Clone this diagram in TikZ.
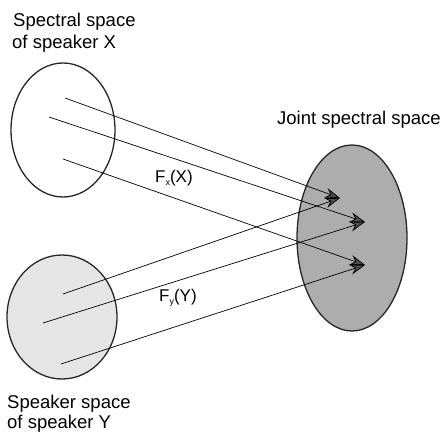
\documentclass[tikz,border=0pt]{standalone}
\usepackage{fontspec}
\setmainfont{Liberation Sans}
\usetikzlibrary{arrows.meta}
\newcommand{\lowsub}[1]{\raisebox{-3.5pt}{\fontsize{9}{9}\selectfont #1}}
\begin{document}
\begin{tikzpicture}[x=1pt,y=-1pt,
  space/.style={draw=black!85,line width=1.3pt},
  map/.style={line width=0.7pt,-{Stealth[length=15pt,width=10pt,fill=black!70]}},
  lbl/.style={font=\fontsize{18.5}{22}\selectfont,anchor=base west,inner sep=0pt},
  flbl/.style={font=\fontsize{17}{20}\selectfont,anchor=base west,inner sep=0pt}]
\useasboundingbox (0,0) rectangle (446,433);
% spaces
\draw[space] (63,130) ellipse [x radius=52, y radius=67];
\node[inner sep=0pt] (X) at (63,130) {};
\draw[space,fill=black!10] (62,317) ellipse [x radius=55, y radius=62];
\node[inner sep=0pt] (Y) at (62,317) {};
\draw[space,fill=black!32] (352,238) ellipse [x radius=55, y radius=93];
\node[inner sep=0pt] (J) at (352,238) {};
% start points
\coordinate (x1) at (65,98);
\coordinate (x2) at (49,117);
\coordinate (x3) at (63,159);
\coordinate (y1) at (63,294);
\coordinate (y2) at (43,323);
\coordinate (y3) at (61,364);
% tips
\coordinate (t1) at (340,198);
\coordinate (t2) at (365,222);
\coordinate (t3) at (365,265);
\draw[map] (x1) -- (t1);
\draw[map] (x2) -- (t2);
\draw[map] (x3) -- (t3);
\draw[map] (y1) -- (t1);
\draw[map] (y2) -- (t2);
\draw[map] (y3) -- (t3);
% labels
\node[lbl] (lx1) at (13,27) {Spectral space};
\node[lbl] (lx2) at (12,49) {of speaker X};
\node[lbl] (lj) at (277,124) {Joint spectral space};
\node[lbl] (ly1) at (7,408) {Speaker space};
\node[lbl] (ly2) at (7,428) {of speaker Y};
\node[flbl] (fx) at (155,182) {F\lowsub{x}(X)};
\node[flbl] (fy) at (159,301) {F\lowsub{y}(Y)};
\end{tikzpicture}
\end{document}
